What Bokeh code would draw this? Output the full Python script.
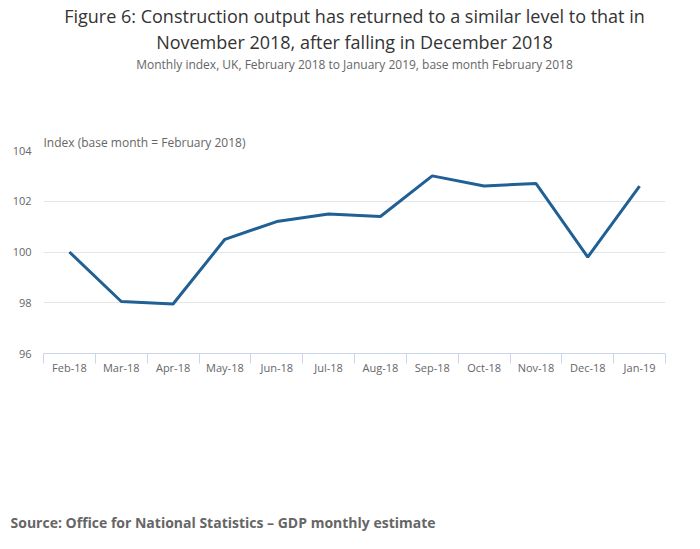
from bokeh.plotting import figure
from bokeh.models import FixedTicker, Title
from bokeh.embed import file_html
from bokeh.resources import INLINE

months = ["Feb-18", "Mar-18", "Apr-18", "May-18", "Jun-18", "Jul-18",
          "Aug-18", "Sep-18", "Oct-18", "Nov-18", "Dec-18", "Jan-19"]
index_values = [100.0, 98.05, 97.95, 100.5, 101.2, 101.5,
                101.4, 103.0, 102.6, 102.7, 99.8, 102.6]
y_ticks = [96, 98, 100, 102, 104]

FONT = "Open Sans"
GREY = "#666666"

p = figure(width=684, height=533, x_range=(0, len(months)), y_range=(96, 104),
           tools="", toolbar_location=None, output_backend="svg",
           min_border_left=43, min_border_right=19, min_border_top=150,
           min_border_bottom=180)
p.outline_line_color = None

xs = [i + 0.5 for i in range(len(months))]
p.line(xs, index_values, line_color="#206095", line_width=3)

# x axis: labels at month centres, tick marks at band edges
p.xaxis.ticker = FixedTicker(ticks=xs, minor_ticks=list(range(len(months) + 1)))
p.xaxis.major_label_overrides = {x: m for x, m in zip(xs, months)}
p.xaxis.major_tick_line_color = None
p.xaxis.minor_tick_line_color = "#ccd6eb"
p.xaxis.minor_tick_out = 10
p.xaxis.minor_tick_in = 0
p.xaxis.axis_line_color = "#ccd6eb"
p.xaxis.major_label_text_font = FONT
p.xaxis.major_label_text_font_size = "11px"
p.xaxis.major_label_text_color = GREY
p.xaxis.major_label_standoff = -4
p.xgrid.grid_line_color = None

p.yaxis.ticker = FixedTicker(ticks=y_ticks)
p.yaxis.axis_line_color = None
p.yaxis.major_tick_line_color = None
p.yaxis.minor_tick_line_color = None
p.yaxis.major_label_text_font = FONT
p.yaxis.major_label_text_font_size = "11px"
p.yaxis.major_label_text_color = GREY
p.yaxis.major_label_standoff = 6
p.ygrid.grid_line_color = "#e6e6e6"


def title(text, size="12px", color=GREY, align="center", style="normal",
          standoff=0, offset=0):
    return Title(text=text, align=align, offset=offset, text_font=FONT,
                 text_font_size=size, text_color=color,
                 text_font_style=style, standoff=standoff)


# titles stack outward from the plot frame
p.add_layout(title("Index (base month = February 2018)", align="left"), "above")
p.add_layout(title(" ", standoff=40), "above")
p.add_layout(title("Monthly index, UK, February 2018 to January 2019, "
                   "base month February 2018"), "above")
p.add_layout(title("November 2018, after falling in December 2018",
                   size="18px", color="#333333"), "above")
p.add_layout(title("Figure 6: Construction output has returned to a similar level to that in",
                   size="18px", color="#333333"), "above")

p.add_layout(title(" ", standoff=114), "below")
p.add_layout(title("Source: Office for National Statistics \u2013 GDP monthly estimate",
                   size="14px", align="left", style="bold", offset=-33), "below")

open("out.html", "w").write(file_html(p, INLINE))
